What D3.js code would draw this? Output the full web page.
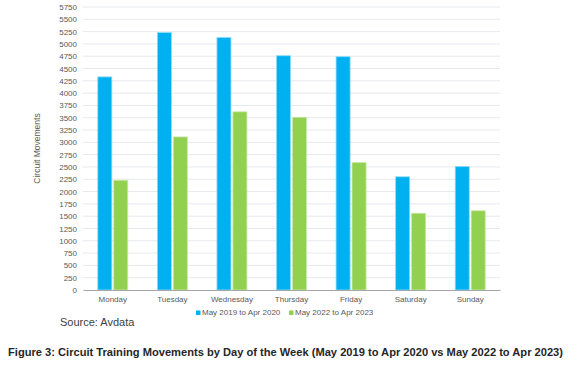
<!DOCTYPE html>
<html>
<head>
<meta charset="utf-8">
<script src="https://cdn.jsdelivr.net/npm/d3@7"></script>
<style>
  body { margin: 0; background: #fff; }
  svg { font-family: "Liberation Sans", Arial, sans-serif; }
</style>
</head>
<body>
<svg width="578" height="366"></svg>
<script>
const days = ["Monday", "Tuesday", "Wednesday", "Thursday", "Friday", "Saturday", "Sunday"];
const series = ["May 2019 to Apr 2020", "May 2022 to Apr 2023"];
const period2019 = [4330, 5230, 5130, 4760, 4740, 2300, 2510];
const period2022 = [2230, 3110, 3620, 3510, 2590, 1560, 1610];
const yTicks = d3.range(0, 5751, 250);
const colors = ["#00b0f0", "#92d050"];

const svg = d3.select("svg");
const plotLeft = 83, plotRight = 500, plotTop = 7, plotBottom = 290;

const x = d3.scaleBand().domain(days).range([plotLeft, plotRight]);
const x1 = d3.scaleBand().domain(series).range([0, 30]).paddingInner(0.12);
const y = d3.scaleLinear().domain([0, 5750]).range([plotBottom, plotTop]);

// gridlines
svg.append("g")
    .selectAll("line")
    .data(yTicks.filter(d => d > 0))
    .join("line")
    .attr("x1", plotLeft).attr("x2", plotRight)
    .attr("y1", d => y(d)).attr("y2", d => y(d))
    .attr("stroke", "#e6e8ec").attr("stroke-width", 1);

// y axis labels
const yAxis = svg.append("g")
    .attr("transform", `translate(${plotLeft},0)`)
    .call(d3.axisLeft(y).tickValues(yTicks).tickFormat(d3.format("d")).tickSize(0).tickPadding(6));
yAxis.select(".domain").remove();
yAxis.selectAll("text").attr("font-size", 8).attr("fill", "#595959")
    .attr("font-family", "Liberation Sans, Arial, sans-serif");

// bars
const rows = days.map((d, i) => ({ day: d, values: [period2019[i], period2022[i]] }));
const groups = svg.append("g").selectAll("g")
    .data(rows)
    .join("g")
    .attr("transform", d => `translate(${x(d.day) + x.bandwidth() / 2 - 15},0)`);
groups.selectAll("rect")
    .data(d => d.values.map((v, i) => ({ s: series[i], v, i })))
    .join("rect")
    .attr("x", d => x1(d.s))
    .attr("width", x1.bandwidth())
    .attr("y", d => y(d.v))
    .attr("height", d => plotBottom - y(d.v))
    .attr("fill", d => colors[d.i])
    .attr("stroke", d => d.i === 0 ? "#8fdcf8" : "#c9e8a8")
    .attr("stroke-width", 0.8);

// x axis
const xAxis = svg.append("g")
    .attr("transform", `translate(0,${plotBottom})`)
    .call(d3.axisBottom(x).tickSize(0).tickPadding(6));
xAxis.select(".domain").attr("stroke", "#a6a6a6").attr("stroke-width", 1.2);
xAxis.selectAll("text").attr("font-size", 8).attr("fill", "#595959")
    .attr("font-family", "Liberation Sans, Arial, sans-serif");

// axis title
svg.append("text")
    .attr("transform", `translate(40,${(plotTop + plotBottom) / 2}) rotate(-90)`)
    .attr("text-anchor", "middle")
    .attr("font-size", 8.5).attr("fill", "#595959")
    .text("Circuit Movements");

// legend
const legendX = [196, 289];
const legend = svg.append("g").selectAll("g")
    .data(series)
    .join("g")
    .attr("transform", (d, i) => `translate(${legendX[i]},315)`);
legend.append("rect").attr("x", 0).attr("y", -4.5).attr("width", 4.5).attr("height", 4.5)
    .attr("fill", (d, i) => colors[i]);
legend.append("text").attr("x", 6).attr("y", 0).attr("font-size", 8).attr("fill", "#595959")
    .text(d => d);

// source
svg.append("text")
    .attr("x", 60).attr("y", 326)
    .attr("font-size", 11).attr("fill", "#404040")
    .text("Source: Avdata");

// caption
svg.append("text")
    .attr("x", 8).attr("y", 356)
    .attr("font-size", 11).attr("font-weight", "bold").attr("fill", "#262626")
    .attr("textLength", 555).attr("lengthAdjust", "spacingAndGlyphs")
    .text("Figure 3: Circuit  Training Movements by Day of the Week (May 2019 to Apr 2020 vs May 2022 to Apr 2023)");
</script>
</body>
</html>
